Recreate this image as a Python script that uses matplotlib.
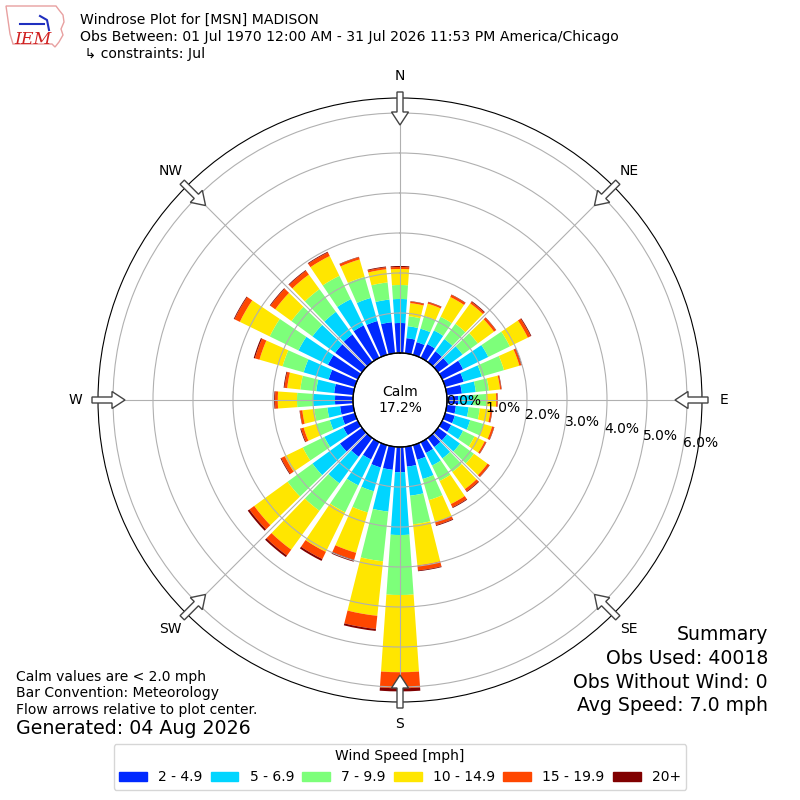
#!/usr/bin/env python3
"""Windrose for MSN Madison, July obs."""

import numpy as np
import matplotlib
matplotlib.use("Agg")
import matplotlib.pyplot as plt
from matplotlib.patches import Patch, Circle, FancyArrow, Polygon

# direction bins (deg, meteorological, 10 deg bins)
directions = np.arange(0, 360, 10)

# frequency (%) per speed class
spd_2_5 = [0.75, 0.38, 0.33, 0.38, 0.33, 0.33, 0.58, 0.48, 0.38, 0.28, 0.23, 0.25,
           0.25, 0.28, 0.28, 0.30, 0.38, 0.50, 0.63, 0.58, 0.58, 0.48, 0.58, 0.68,
           0.40, 0.33, 0.33, 0.45, 0.48, 0.68, 0.83, 0.83, 0.85, 0.90, 0.88, 0.78]
spd_5_7 = [0.60, 0.30, 0.35, 0.38, 0.38, 0.43, 0.70, 0.47, 0.35, 0.37, 0.32, 0.40,
           0.33, 0.40, 0.35, 0.35, 0.50, 0.73, 1.57, 1.05, 0.62, 0.72, 0.82, 0.85,
           0.53, 0.32, 0.32, 0.55, 0.45, 0.65, 0.82, 0.70, 0.70, 0.73, 0.60, 0.57]
spd_7_10 = [0.35, 0.25, 0.33, 0.38, 0.47, 0.47, 0.60, 0.58, 0.33, 0.33, 0.28, 0.35,
            0.32, 0.43, 0.42, 0.43, 0.55, 0.72, 1.50, 1.25, 0.55, 0.75, 0.85, 0.77,
            0.60, 0.35, 0.33, 0.40, 0.40, 0.55, 0.80, 0.65, 0.70, 0.65, 0.55, 0.43]
spd_10_15 = [0.40, 0.33, 0.32, 0.55, 0.63, 0.50, 0.50, 0.40, 0.28, 0.25, 0.27, 0.22,
             0.28, 0.42, 0.53, 0.64, 0.57, 1.03, 1.93, 1.37, 1.05, 1.10, 1.20, 1.03,
             0.50, 0.33, 0.30, 0.48, 0.33, 0.60, 0.83, 0.50, 0.45, 0.55, 0.45, 0.33]
spd_15_20 = [0.05, 0.04, 0.04, 0.06, 0.05, 0.06, 0.08, 0.05, 0.03, 0.03, 0.04, 0.05,
             0.04, 0.06, 0.07, 0.09, 0.08, 0.13, 0.40, 0.33, 0.18, 0.20, 0.18, 0.15,
             0.10, 0.07, 0.06, 0.07, 0.07, 0.12, 0.15, 0.15, 0.12, 0.10, 0.06, 0.05]
spd_20p = [0.025, 0.01, 0.01, 0.01, 0.02, 0.01, 0.02, 0.02, 0.01, 0.01, 0.01, 0.01,
           0.01, 0.01, 0.02, 0.02, 0.02, 0.02, 0.08, 0.05, 0.05, 0.05, 0.05, 0.05,
           0.02, 0.02, 0.01, 0.02, 0.02, 0.03, 0.02, 0.02, 0.02, 0.02, 0.01, 0.02]

speed_labels = ["2 - 4.9", "5 - 6.9", "7 - 9.9", "10 - 14.9", "15 - 19.9", "20+"]
calm_pct = 17.2
rticks = [0, 1, 2, 3, 4, 5, 6]
compass = ["N", "NE", "E", "SE", "S", "SW", "W", "NW"]

title_lines = [
    "Windrose Plot for [MSN] MADISON",
    "Obs Between: 01 Jul 1970 12:00 AM - 31 Jul 2026 11:53 PM America/Chicago",
    " \u21b3 constraints: Jul",
]
notes = ["Calm values are < 2.0 mph", "Bar Convention: Meteorology",
         "Flow arrows relative to plot center."]
generated = "Generated: 04 Aug 2026"
summary = ["Summary", "Obs Used: 40018", "Obs Without Wind: 0", "Avg Speed: 7.0 mph"]


def px(x, y):
    """pixel (from top-left) -> figure fraction"""
    return x / 800.0, 1.0 - y / 800.0


def main():
    fig = plt.figure(figsize=(8, 8), dpi=100)
    ax = fig.add_axes([0.1225, 0.1225, 0.755, 0.755], projection="polar")
    ax.set_theta_zero_location("N")
    ax.set_theta_direction(-1)

    colors = plt.cm.jet(np.linspace(0, 1, 7))[1:]
    series = [spd_2_5, spd_5_7, spd_7_10, spd_10_15, spd_15_20, spd_20p]
    theta = np.deg2rad(directions)
    width = np.deg2rad(8)
    base = np.zeros(len(directions))
    for vals, col in zip(series, colors):
        vals = np.asarray(vals)
        ax.bar(theta, vals, width=width, bottom=base, color=col, linewidth=0,
               align="center")
        base = base + vals

    ax.set_rorigin(-1.175)
    ax.set_ylim(0, 6.375)
    ax.set_rticks(rticks)
    ax.set_yticklabels([f"{v:.1f}%" for v in rticks], fontsize=10)
    ax.set_rlabel_position(100)
    ax.set_thetagrids(np.arange(0, 360, 45), labels=compass, fontsize=10)
    ax.tick_params(axis="x", pad=5.5)
    ax.grid(True, color="#b0b0b0", lw=0.8)

    # calm circle
    ax.add_patch(Circle((0.5, 0.5), 47 / 604.0, transform=ax.transAxes,
                        facecolor="none", edgecolor="black", lw=1.0, zorder=5,
                        clip_on=False))
    ax.text(0.5, 0.5, f"Calm\n{calm_pct:.1f}%", transform=ax.transAxes,
            ha="center", va="center", fontsize=10, zorder=6)

    # flow arrows on the rim
    for ang in np.arange(0, 360, 45):
        ux, uy = np.sin(np.deg2rad(ang)), np.cos(np.deg2rad(ang))
        x0, y0 = 0.5 + ux * 308 / 800, 0.5 + uy * 308 / 800
        arr = FancyArrow(x0, y0, -ux * 33 / 800, -uy * 33 / 800,
                         width=6 / 800, head_width=17 / 800, head_length=13 / 800,
                         length_includes_head=True, facecolor="white",
                         edgecolor="#444444", lw=1.0, transform=fig.transFigure,
                         zorder=10)
        fig.add_artist(arr)

    # IEM logo, rough
    outline = [(6, 6), (56, 6), (59, 10), (63, 15), (64, 22), (61, 29), (63, 35),
               (59, 42), (55, 47), (52, 44), (13, 44), (10, 34), (8, 20)]
    fig.add_artist(Polygon([px(x, y) for x, y in outline], closed=True,
                           transform=fig.transFigure, facecolor="none",
                           edgecolor="#e8a0a0", lw=1.0))
    fig.add_artist(plt.Line2D([px(20, 24)[0], px(44, 24)[0]],
                              [px(20, 24)[1], px(44, 24)[1]],
                              transform=fig.transFigure, color="#1f2fbf", lw=1.5))
    fig.add_artist(plt.Line2D([px(40, 16)[0], px(47, 20)[0], px(49, 30)[0]],
                              [px(40, 16)[1], px(47, 20)[1], px(49, 30)[1]],
                              transform=fig.transFigure, color="#1f2fbf", lw=1.5))
    fig.text(*px(14, 44), "IEM", color="#d02020", fontsize=12.5, style="italic",
             family="DejaVu Serif", va="baseline")

    for i, line in enumerate(title_lines):
        fig.text(*px(80, 20 + 17 * i), line, fontsize=10.1, va="center")

    for i, line in enumerate(notes):
        fig.text(*px(16, 677 + 16.5 * i), line, fontsize=10, va="center")
    fig.text(*px(16, 729), generated, fontsize=13.7, va="center")

    for i, line in enumerate(summary):
        fig.text(*px(768, 635 + 23.5 * i), line, fontsize=13.6, va="center",
                 ha="right")

    handles = [Patch(color=c) for c in colors]
    fig.legend(handles, speed_labels, loc="lower center",
               bbox_to_anchor=(0.5, 0.004), ncol=6, title="Wind Speed [mph]",
               fontsize=10, title_fontsize=10, columnspacing=0.6)

    fig.savefig("out.png", dpi=100)


if __name__ == "__main__":
    main()
